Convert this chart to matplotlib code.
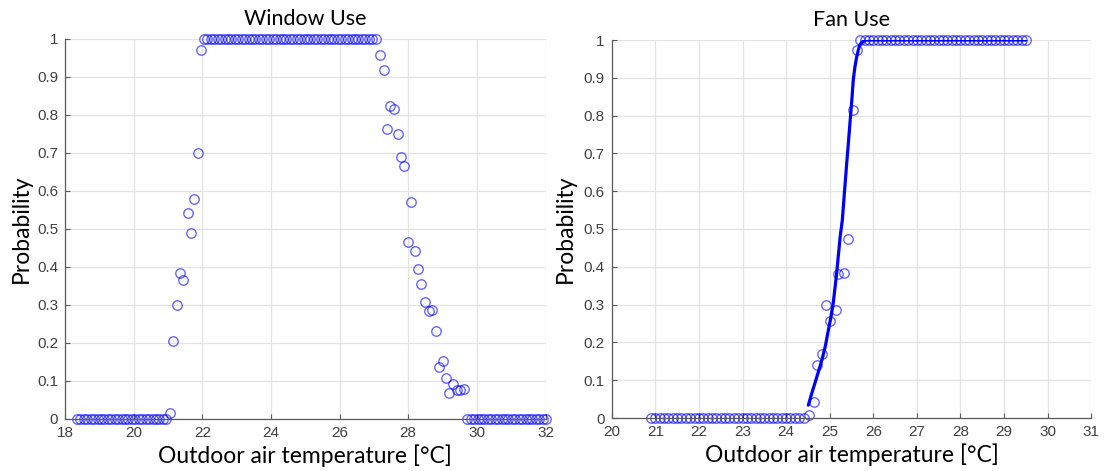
import numpy as np
import matplotlib.pyplot as plt

# window use: bin temperature vs observed probability
win_t = ([18.35 + 0.1 * i for i in range(27)] +
         [21.06, 21.14, 21.26, 21.36, 21.45, 21.57, 21.66, 21.76, 21.87, 21.95] +
         [22.05 + 0.1 * i for i in range(51)] +
         [27.18, 27.28, 27.38, 27.48, 27.59, 27.69, 27.79, 27.88, 27.99, 28.08,
          28.19, 28.29, 28.38, 28.5, 28.6, 28.7, 28.8, 28.9, 29.0, 29.1,
          29.2, 29.3, 29.42, 29.52, 29.62] +
         [29.72 + 0.1 * i for i in range(24)])
win_p = ([0.0] * 27 +
         [0.015, 0.205, 0.30, 0.383, 0.366, 0.542, 0.49, 0.579, 0.70, 0.97] +
         [1.0] * 51 +
         [0.957, 0.918, 0.764, 0.824, 0.817, 0.75, 0.69, 0.666, 0.466, 0.57,
          0.441, 0.395, 0.355, 0.309, 0.284, 0.288, 0.232, 0.137, 0.152, 0.109,
          0.068, 0.091, 0.076, 0.077, 0.079] +
         [0.0] * 24)

# fan use: observed probability
fan_t = ([20.9 + 0.1 * i for i in range(36)] +
         [24.52, 24.63, 24.72, 24.82, 24.92, 25.0, 25.14, 25.19, 25.33, 25.42, 25.53, 25.62] +
         [25.7 + 0.1 * i for i in range(39)])
fan_p = ([0.0] * 36 +
         [0.008, 0.043, 0.14, 0.168, 0.30, 0.257, 0.287, 0.38, 0.383, 0.473, 0.815, 0.973] +
         [1.0] * 39)

# fitted curve
fit_t = [24.51, 24.58, 24.66, 24.74, 24.82, 24.9, 24.97, 25.03, 25.08, 25.16,
         25.24, 25.29, 25.34, 25.39, 25.43, 25.47, 25.51, 25.54, 25.58, 25.62,
         25.66, 25.69, 25.74, 25.79, 25.85, 26.5, 27.5, 28.5, 29.5]
fit_p = [0.034, 0.062, 0.092, 0.122, 0.153, 0.19, 0.233, 0.268, 0.303, 0.383,
         0.48, 0.524, 0.6, 0.674, 0.73, 0.788, 0.845, 0.894, 0.93, 0.956,
         0.975, 0.987, 0.994, 0.998, 1.0, 1.0, 1.0, 1.0, 1.0]

yticks = [i / 10 for i in range(11)]
ylabels = ['0'] + ['%.1f' % v for v in yticks[1:-1]] + ['1']

tick_col = '#404040'
spine_col = '#5a5a5a'
lab_font = 'Lato'
mk = dict(marker='o', ls='none', ms=6.8, mfc='none', mec=(0, 0, 1, 0.6), mew=1.0)

fig = plt.figure(figsize=(11.06, 4.71), dpi=100)
ax1 = fig.add_axes([65 / 1106, 1 - 419 / 471, (545.5 - 65) / 1106, 380 / 471])
ax2 = fig.add_axes([611.7 / 1106, 1 - 418 / 471, (1091.3 - 611.7) / 1106, 378 / 471])


def style(ax, xlim, xticks, title, ylab_x):
    ax.set_xlim(*xlim)
    ax.set_ylim(0, 1)
    ax.set_xticks(xticks)
    ax.set_yticks(yticks)
    ax.set_yticklabels(ylabels)
    ax.grid(True, color='#e3e3e3', lw=0.9)
    ax.set_axisbelow(True)
    for s in ['top', 'right']:
        ax.spines[s].set_visible(False)
    for s in ['left', 'bottom']:
        ax.spines[s].set_color(spine_col)
        ax.spines[s].set_linewidth(0.9)
    ax.tick_params(direction='in', length=3.5, width=0.8, color=spine_col,
                   labelcolor=tick_col, labelsize=11)
    ax.tick_params(axis='x', pad=5)
    ax.tick_params(axis='y', pad=5)
    for lbl in ax.get_xticklabels() + ax.get_yticklabels():
        lbl.set_family('Liberation Sans')
    ax.set_title(title, fontsize=15.5, family=lab_font, pad=10)
    ax.set_xlabel('Outdoor air temperature [°C]', fontsize=16.5, family=lab_font)
    ax.xaxis.set_label_coords(0.5, -0.097)
    ax.xaxis.label.set_va('center')
    ax.set_ylabel('Probability', fontsize=16.5, family=lab_font)
    ax.yaxis.set_label_coords(ylab_x, 0.5)
    ax.yaxis.label.set_va('center')


ax1.plot(win_t, win_p, clip_on=False, **mk)
style(ax1, (18, 32), list(range(18, 33, 2)), 'Window Use', -0.09)

ax2.plot(fit_t, fit_p, color='#0000ff', lw=2.3, solid_capstyle='round')
ax2.plot(fan_t, fan_p, clip_on=False, **mk)
style(ax2, (20, 31), list(range(20, 32)), 'Fan Use', -0.097)

fig.savefig('out.png', dpi=100)
